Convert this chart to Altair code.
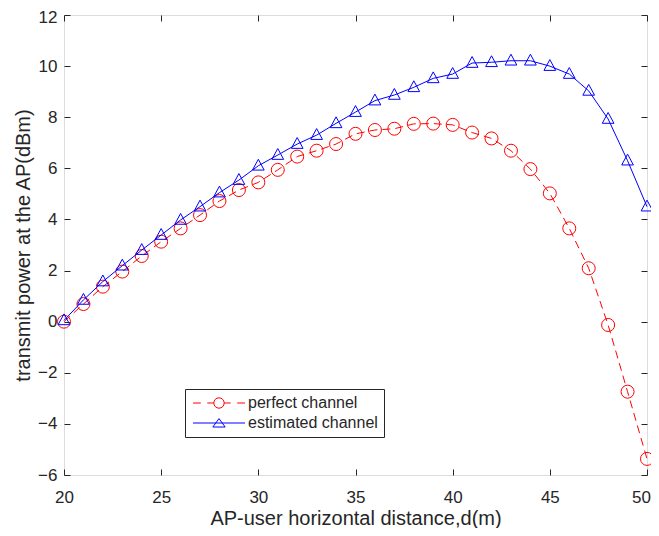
import altair as alt
import pandas as pd

# ---- data ----
distance = list(range(20, 51))
perfect = [0.0, 0.69, 1.37, 1.96, 2.57, 3.13, 3.65, 4.17, 4.72, 5.15, 5.45,
           5.94, 6.46, 6.69, 6.95, 7.35, 7.5, 7.55, 7.74, 7.75, 7.7,
           7.4, 7.17, 6.69, 5.97, 5.02, 3.65, 2.09, -0.13, -2.74, -5.37]
estimated = [0.05, 0.85, 1.57, 2.19, 2.8, 3.39, 3.98, 4.5, 5.05, 5.54, 6.1,
             6.52, 6.95, 7.3, 7.76, 8.2, 8.65, 8.87, 9.17, 9.52, 9.69,
             10.12, 10.15, 10.21, 10.21, 10.0, 9.69, 9.03, 7.93, 6.3, 4.5]
series_names = ["perfect channel", "estimated channel"]
x_ticks = [20, 25, 30, 35, 40, 45, 50]
y_ticks = [-6, -4, -2, 0, 2, 4, 6, 8, 10, 12]

RED = "#FF0000"
BLUE = "#0000FF"
AX = "#262626"
FONT = "Liberation Sans"

df = pd.DataFrame({
    "d": distance + distance,
    "p": perfect + estimated,
    "series": [series_names[0]] * len(distance) + [series_names[1]] * len(distance),
})
legend_df = pd.DataFrame({"series": series_names})

tri_path = "M0,-1L0.9,0.66L-0.9,0.66Z"
leg_red = ("M-4,0H-2.8M-1.8,0H-0.8M0.8,0H1.8M2.8,0H4"
           "M0.8,0A0.8,0.8,0,1,1,-0.8,0A0.8,0.8,0,1,1,0.8,0")
leg_blue = "M-4,0H4M0,-0.68L0.95,0.62L-0.95,0.62Z"

xscale = alt.Scale(domain=[20, 50], nice=False, zero=False)
yscale = alt.Scale(domain=[-6, 12], nice=False, zero=False)

ax_common = dict(offset=-6, tickSize=6, domain=False, grid=False,
                 tickColor=AX, labelColor=AX, titleColor=AX,
                 labelFont=FONT, titleFont=FONT, labelFontSize=17,
                 titleFontSize=20, titleFontWeight="normal", labelFlush=False)

x_bottom = alt.Axis(orient="bottom", values=x_ticks, labelPadding=14,
                    labelOffset={"condition": {"test": "datum.value == 50", "value": -6},
                                 "value": 0},
                    title="AP-user horizontal distance,d(m)", titlePadding=3,
                    **ax_common)
y_left = alt.Axis(orient="left", values=y_ticks, labelPadding=7,
                  labelOffset={"condition": {"test": "datum.value == 12", "value": 2},
                               "value": 0},
                  title="transmit power at the AP(dBm)", titlePadding=4,
                  **ax_common)
x_top = alt.Axis(orient="top", values=x_ticks, labels=False, title=None,
                 offset=-6, tickSize=6, domain=False, grid=False, tickColor=AX)
y_right = alt.Axis(orient="right", values=y_ticks, labels=False, title=None,
                   offset=-6, tickSize=6, domain=False, grid=False, tickColor=AX)

base = alt.Chart(df)

red_line = base.transform_filter(alt.datum.series == series_names[0]).mark_line(
    color=RED, strokeWidth=1, strokeDash=[8, 5]
).encode(
    x=alt.X("d:Q", scale=xscale, axis=x_bottom),
    y=alt.Y("p:Q", scale=yscale, axis=y_left),
)
red_pts = base.transform_filter(alt.datum.series == series_names[0]).mark_point(
    shape="circle", size=169, filled=False, color=RED, strokeWidth=1, opacity=1
).encode(
    x=alt.X("d:Q", scale=xscale, axis=None),
    y=alt.Y("p:Q", scale=yscale, axis=None),
)
blue_line = base.transform_filter(alt.datum.series == series_names[1]).mark_line(
    color=BLUE, strokeWidth=1
).encode(
    x=alt.X("d:Q", scale=xscale, axis=x_top),
    y=alt.Y("p:Q", scale=yscale, axis=y_right),
)
blue_pts = base.transform_filter(alt.datum.series == series_names[1]).mark_point(
    shape=tri_path, size=169, filled=False, color=BLUE, strokeWidth=1, opacity=1
).encode(
    x=alt.X("d:Q", scale=xscale, axis=None),
    y=alt.Y("p:Q", scale=yscale, axis=None),
)

legend_layer = alt.Chart(legend_df).mark_point(filled=False, size=169, opacity=0, strokeWidth=1).encode(
    color=alt.Color("series:N", scale=alt.Scale(domain=series_names, range=[RED, BLUE]),
                    legend=alt.Legend(
                        title=None, orient="none", legendX=121, legendY=374,
                        labelFont=FONT, labelFontSize=16, labelColor=AX,
                        symbolSize=169, symbolStrokeWidth=1, symbolOpacity=1,
                        symbolOffset=20, labelOffset=21, rowPadding=4,
                        padding=6, strokeColor=AX, fillColor="white",
                        labelLimit=300)),
    shape=alt.Shape("series:N", scale=alt.Scale(domain=series_names, range=[leg_red, leg_blue])),
)

chart = alt.layer(red_line, red_pts, blue_line, blue_pts, legend_layer).resolve_axis(
    x="independent", y="independent"
).properties(
    width=583, height=460,
    autosize=alt.AutoSizeParams(type="none"),
    padding={"left": 56, "top": 7, "right": 4, "bottom": 53},
    background="white",
).configure_view(stroke=AX, strokeWidth=1).configure(font=FONT)

chart.save("out.html", embed_options={"renderer": "svg", "actions": False})
